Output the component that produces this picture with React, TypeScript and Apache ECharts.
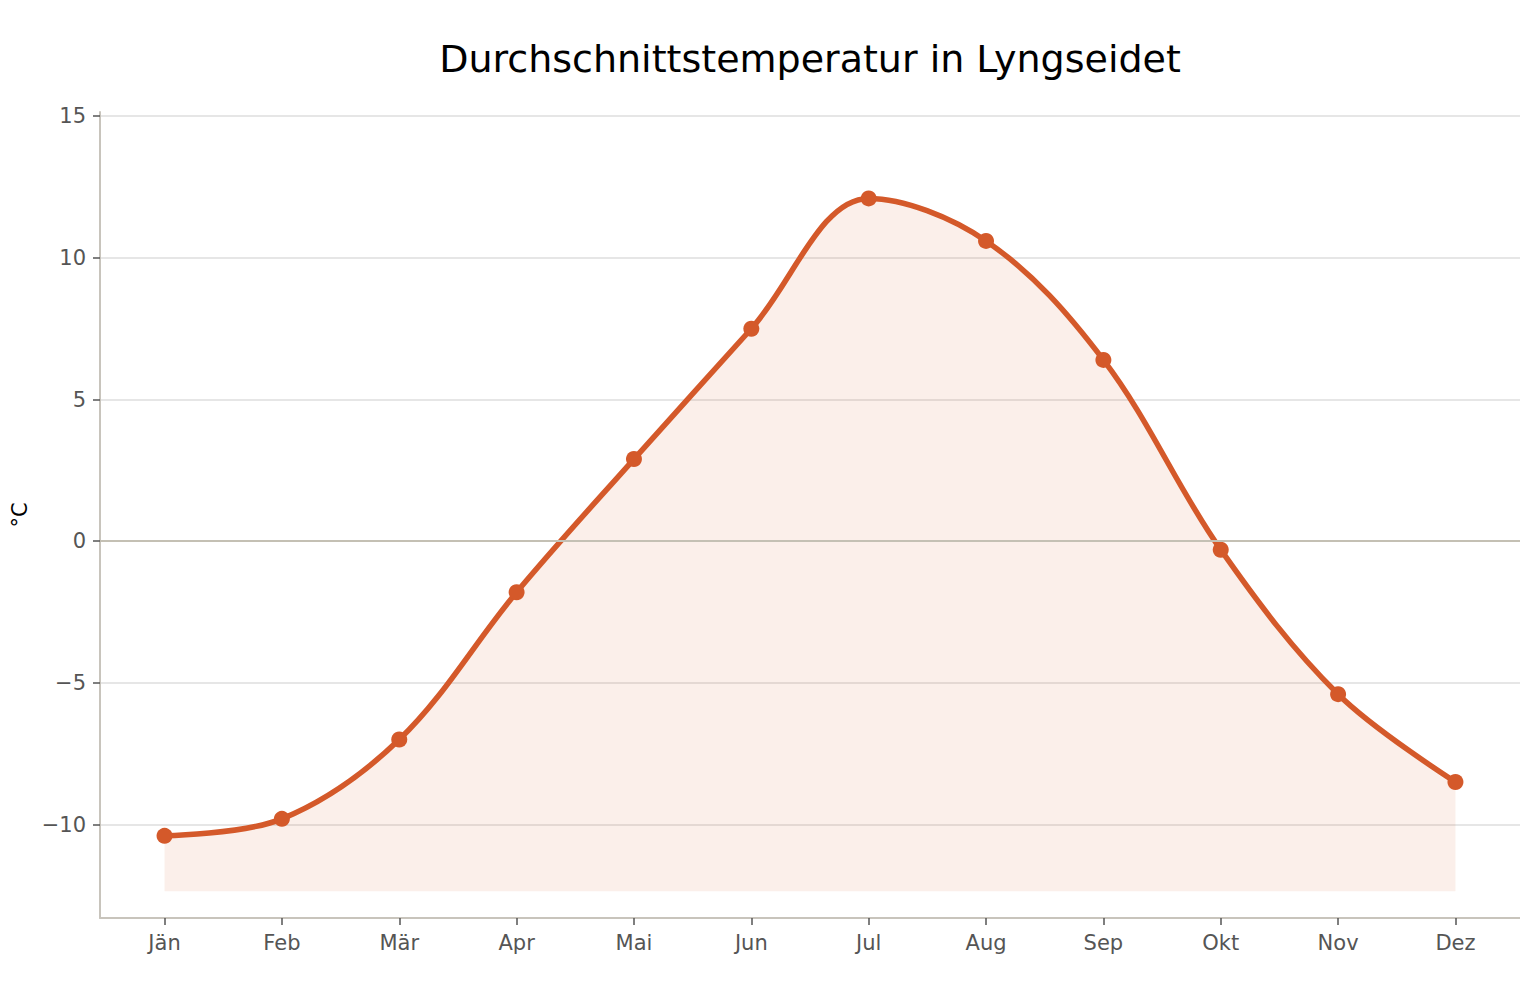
import React, { useEffect, useRef } from "react";
import * as echarts from "echarts";

const months = ["Jän", "Feb", "Mär", "Apr", "Mai", "Jun", "Jul", "Aug", "Sep", "Okt", "Nov", "Dez"];
const temps = [-10.4, -9.8, -7.0, -1.8, 2.9, 7.5, 12.1, 10.6, 6.4, -0.3, -5.4, -8.5];
const yTicks = [-10, -5, 0, 5, 10, 15];
const fillBase = -12.36;
const title = "Durchschnittstemperatur in Lyngseidet";
const unit = "°C";

const FONT = "DejaVu Sans, Verdana, sans-serif";
const LINE = "#d4592a";

export default function App() {
  const ref = useRef<HTMLDivElement>(null);
  useEffect(() => {
    if (!ref.current) return;
    const chart = echarts.init(ref.current, null, { renderer: "svg" });
    const monthIdx = months.map((_, i) => i);
    chart.setOption({
      animation: false,
      backgroundColor: "#ffffff",
      title: {
        text: title,
        left: 797,
        textAlign: "center",
        top: 27,
        textStyle: { fontFamily: FONT, fontSize: 38, fontWeight: "normal", color: "#000" },
      },
      grid: { left: 92, right: 0, top: 104, bottom: 74, containLabel: false, outerBoundsMode: "none" },
      xAxis: {
        type: "value",
        min: -0.55,
        max: 11.55,
        axisLine: { show: true, onZero: false, lineStyle: { color: "#c8c4bc", width: 2 } },
        axisTick: { show: true, customValues: monthIdx, length: 7, lineStyle: { color: "#555", width: 1.5 } },
        axisLabel: {
          customValues: monthIdx,
          formatter: (v: number) => months[Math.round(v)] ?? "",
          fontFamily: FONT,
          fontSize: 21,
          color: "#555",
          margin: 14,
        },
        splitLine: { show: false },
      },
      yAxis: {
        type: "value",
        min: -13.3,
        max: 15.15,
        name: unit,
        nameLocation: "middle",
        nameRotate: 90,
        nameGap: 68,
        nameTextStyle: { fontFamily: FONT, fontSize: 21, color: "#000" },
        axisLine: { show: true, onZero: false, lineStyle: { color: "#c8c4bc", width: 2 } },
        axisTick: { show: true, customValues: yTicks, length: 7, lineStyle: { color: "#555", width: 1.5 } },
        axisLabel: {
          customValues: yTicks,
          formatter: (v: number) => (v < 0 ? "\u2212" + Math.abs(v) : String(v)),
          fontFamily: FONT,
          fontSize: 21,
          color: "#555",
          margin: 14,
        },
        splitLine: { show: true, lineStyle: { color: "#dedede", width: 1.5 } },
      },
      series: [
        {
          type: "line",
          data: temps.map((t, i) => [i, t]),
          smooth: 0.35,
          symbol: "circle",
          symbolSize: 16,
          lineStyle: { color: LINE, width: 5.5 },
          itemStyle: { color: LINE },
          areaStyle: { color: "rgba(214,88,42,0.14)", origin: fillBase },
          markLine: {
            silent: true,
            symbol: "none",
            label: { show: false },
            lineStyle: { color: "#c4c0b4", width: 2, type: "solid" },
            data: [{ yAxis: 0 }],
          },
          z: 3,
        },
      ],
    });
    return () => chart.dispose();
  }, []);
  return <div ref={ref} style={{ width: 1512, height: 984 }} />;
}
